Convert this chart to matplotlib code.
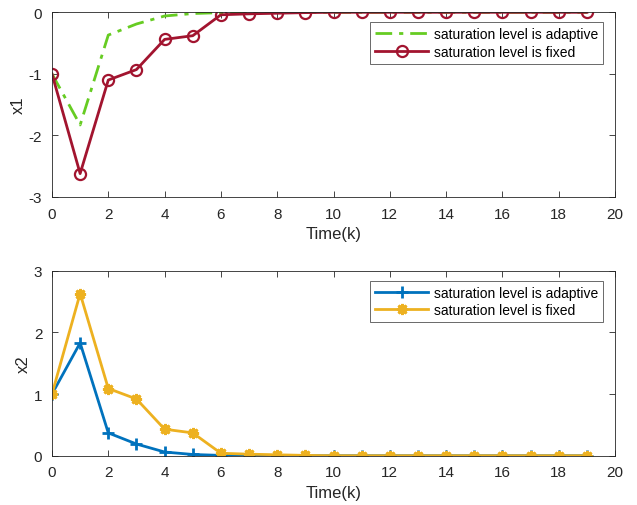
import matplotlib
matplotlib.use("Agg")
import matplotlib.pyplot as plt

plt.rcParams["font.family"] = ["Liberation Sans", "DejaVu Sans"]
plt.rcParams["axes.unicode_minus"] = False

tempo = list(range(20))

x1_adaptativo = [-1.0, -1.83, -0.37, -0.19, -0.06, -0.02, -0.005, 0, 0, 0,
                 0, 0, 0, 0, 0, 0, 0, 0, 0, 0]
x1_fixo = [-1.0, -2.62, -1.10, -0.93, -0.44, -0.38, -0.04, -0.025, -0.015, -0.005,
           0, 0, 0, 0, 0, 0, 0, 0, 0, 0]
x2_adaptativo = [1.0, 1.83, 0.37, 0.19, 0.06, 0.02, 0.005, 0, 0, 0,
                 0, 0, 0, 0, 0, 0, 0, 0, 0, 0]
x2_fixo = [1.0, 2.63, 1.09, 0.92, 0.43, 0.37, 0.04, 0.025, 0.015, 0.005,
           0, 0, 0, 0, 0, 0, 0, 0, 0, 0]

ROTULO_ADAPT = "saturation level is adaptive"
ROTULO_FIXO = "saturation level is fixed"
COR_EIXO = "#262626"


def estilo_eixo(ax, yticks, ylim, ylabel):
    ax.set_xlim(0, 20)
    ax.set_xticks(range(0, 21, 2))
    ax.set_ylim(*ylim)
    ax.set_yticks(yticks)
    ax.tick_params(direction="in", top=True, right=True, labelsize=11,
                   colors=COR_EIXO, length=4, width=0.6, pad=7)
    for s in ax.spines.values():
        s.set_color(COR_EIXO)
        s.set_linewidth(0.6)
    ax.set_xlabel("Time(k)", fontsize=12, color=COR_EIXO, labelpad=4)
    ax.set_ylabel(ylabel, fontsize=12, color=COR_EIXO, labelpad=2)
    leg = ax.legend(loc="upper right", fontsize=10, frameon=True, fancybox=False,
                    borderpad=0.35, handlelength=3.8, handletextpad=0.4,
                    labelspacing=0.25, borderaxespad=0,
                    bbox_to_anchor=(0.978, 0.945))
    leg.get_frame().set_edgecolor(COR_EIXO)
    leg.get_frame().set_linewidth(0.6)


fig = plt.figure(figsize=(6.37, 5.06), dpi=100)
ax1 = fig.add_axes([0.0816, 0.6087, 0.884, 0.365])
ax2 = fig.add_axes([0.0816, 0.0974, 0.884, 0.3656])

ax1.plot(tempo, x1_adaptativo, linestyle=(0, (6, 2.5, 1.5, 2.5)), color="#66cc22", lw=2,
         label=ROTULO_ADAPT)
ax1.plot(tempo, x1_fixo, "-o", color="#A2142F", lw=2, ms=8, mfc="none", mew=1.6,
         label=ROTULO_FIXO)
estilo_eixo(ax1, [-3, -2, -1, 0], (-3, 0), "x1")

ax2.plot(tempo, x2_adaptativo, "-+", color="#0072BD", lw=2, ms=9, mew=2, label=ROTULO_ADAPT)
ax2.plot(tempo, x2_fixo, "-", marker=(8, 2, 0), color="#EDB120", lw=2, ms=8, mew=2,
         label=ROTULO_FIXO)
estilo_eixo(ax2, [0, 1, 2, 3], (0, 3), "x2")

fig.savefig("out.png", dpi=100)
